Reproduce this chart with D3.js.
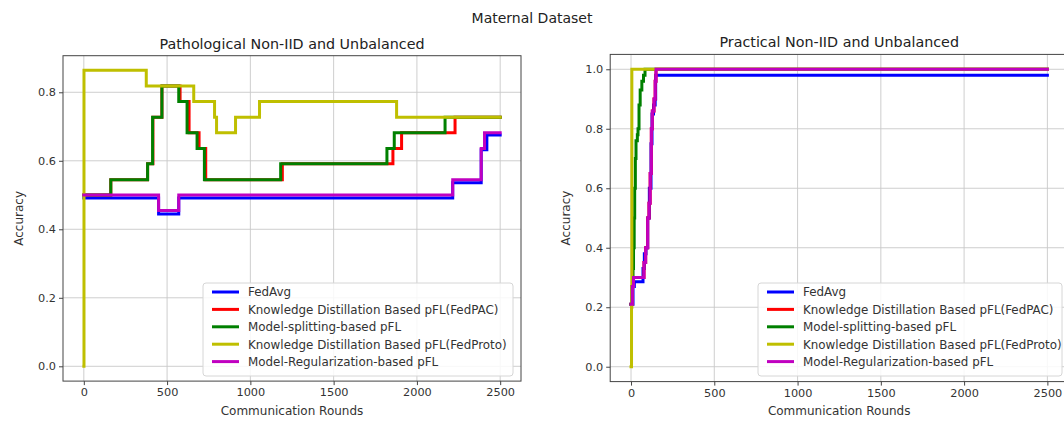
<!DOCTYPE html>
<html>
<head>
<meta charset="utf-8">
<script src="https://cdn.jsdelivr.net/npm/d3@7"></script>
<style>
  html, body { margin: 0; padding: 0; background: #fff; }
  svg { display: block; font-family: "DejaVu Sans", sans-serif; }
</style>
</head>
<body>
<svg id="chart" width="1064" height="421"></svg>
<script>
// ---- data: step breakpoints [round, accuracy] ----
const seriesNames = [
  "FedAvg",
  "Knowledge Distillation Based pFL(FedPAC)",
  "Model-splitting-based pFL",
  "Knowledge Distillation Based pFL(FedProto)",
  "Model-Regularization-based pFL"
];
const seriesColors = ["#0000ff", "#ff0000", "#008000", "#bfbf00", "#c000c0"];

const xTicks = [0, 500, 1000, 1500, 2000, 2500];
const yTicksLeft = [0.0, 0.2, 0.4, 0.6, 0.8];
const yTicksRight = [0.0, 0.2, 0.4, 0.6, 0.8, 1.0];

// Pathological Non-IID and Unbalanced
const pathFedAvg = [[0, 0.491], [449, 0.445], [570, 0.491], [2215, 0.536], [2386, 0.632], [2420, 0.675], [2500, 0.675]];
const pathFedPAC = [[0, 0.5], [162, 0.545], [383, 0.591], [415, 0.727], [469, 0.818], [578, 0.773], [632, 0.682], [692, 0.636], [732, 0.545], [1192, 0.591], [1856, 0.636], [1908, 0.682], [2229, 0.727], [2500, 0.727]];
const pathSplit = [[0, 0.5], [162, 0.545], [383, 0.591], [413, 0.727], [469, 0.818], [570, 0.773], [620, 0.682], [680, 0.636], [724, 0.545], [1182, 0.591], [1820, 0.636], [1864, 0.682], [2169, 0.727], [2500, 0.727]];
const pathFedProto = [[0, 0.0], [1, 0.864], [375, 0.818], [660, 0.773], [785, 0.727], [797, 0.682], [911, 0.727], [1055, 0.773], [1878, 0.727], [2500, 0.727]];
const pathReg = [[0, 0.5], [449, 0.455], [570, 0.5], [2215, 0.545], [2386, 0.636], [2406, 0.682], [2500, 0.682]];

// Practical Non-IID and Unbalanced
const pracFedAvg = [[0, 0.21], [12, 0.27], [20, 0.286], [70, 0.286], [72, 0.33], [80, 0.38], [90, 0.4], [100, 0.5], [110, 0.6], [120, 0.75], [126, 0.85], [135, 0.88], [145, 0.9], [148, 0.98], [2500, 0.98]];
const pracFedPAC = [[0, 0.21], [8, 0.27], [15, 0.3], [72, 0.3], [78, 0.35], [88, 0.4], [100, 0.5], [108, 0.55], [115, 0.65], [122, 0.8], [128, 0.86], [138, 0.9], [145, 0.96], [150, 1.0], [2500, 1.0]];
const pracSplit = [[0, 0.21], [5, 0.27], [12, 0.33], [15, 0.4], [19, 0.5], [22, 0.6], [26, 0.7], [30, 0.76], [38, 0.78], [42, 0.8], [48, 0.88], [55, 0.93], [65, 0.96], [75, 0.98], [84, 1.0], [2500, 1.0]];
const pracFedProto = [[0, 0.0], [3, 0.2], [5, 1.0], [2500, 1.0]];
const pracReg = [[0, 0.21], [8, 0.27], [15, 0.3], [72, 0.3], [78, 0.35], [88, 0.4], [100, 0.5], [108, 0.55], [115, 0.65], [122, 0.8], [128, 0.86], [138, 0.9], [145, 0.96], [150, 1.0], [2500, 1.0]];

const svg = d3.select("#chart");

svg.append("text")
  .attr("x", 532).attr("y", 23)
  .attr("text-anchor", "middle")
  .attr("font-size", 14).attr("fill", "#222")
  .text("Maternal Dataset");

function panel(opts) {
  const x = d3.scaleLinear().domain([-125, 2625]).range([opts.left, opts.right]);
  const y = d3.scaleLinear().domain(opts.yDomain).range([opts.bottom, opts.top]);
  const g = svg.append("g");

  // grid
  g.append("g").selectAll("line").data(xTicks).join("line")
    .attr("x1", d => x(d)).attr("x2", d => x(d))
    .attr("y1", opts.top).attr("y2", opts.bottom)
    .attr("stroke", "#c8c8c8").attr("stroke-width", 0.9);
  g.append("g").selectAll("line").data(opts.yTicks).join("line")
    .attr("x1", opts.left).attr("x2", opts.right)
    .attr("y1", d => y(d)).attr("y2", d => y(d))
    .attr("stroke", "#c8c8c8").attr("stroke-width", 0.9);

  // axes
  const xAxis = d3.axisBottom(x).tickValues(xTicks).tickFormat(d3.format("d")).tickSize(4).tickPadding(3);
  const yAxis = d3.axisLeft(y).tickValues(opts.yTicks).tickFormat(d3.format(".1f")).tickSize(4).tickPadding(3);
  const gx = g.append("g").attr("transform", `translate(0,${opts.bottom})`).call(xAxis);
  const gy = g.append("g").attr("transform", `translate(${opts.left},0)`).call(yAxis);
  [gx, gy].forEach(a => {
    a.select(".domain").remove();
    a.selectAll(".tick line").attr("stroke", "#444");
    a.selectAll(".tick text").attr("font-size", 11.3).attr("fill", "#333").attr("font-family", "DejaVu Sans");
  });

  // lines
  const line = d3.line().x(d => x(d[0])).y(d => y(d[1])).curve(d3.curveStepAfter);
  opts.data.forEach((s, i) => {
    g.append("path").datum(s)
      .attr("d", line)
      .attr("fill", "none")
      .attr("stroke", seriesColors[i])
      .attr("stroke-width", 3)
      .attr("stroke-linejoin", "miter")
      .attr("stroke-linecap", "square");
  });

  // frame
  g.append("rect")
    .attr("x", opts.left).attr("y", opts.top)
    .attr("width", opts.right - opts.left).attr("height", opts.bottom - opts.top)
    .attr("fill", "none").attr("stroke", "#444").attr("stroke-width", 1);

  // titles
  g.append("text")
    .attr("x", (opts.left + opts.right) / 2).attr("y", opts.top - 7)
    .attr("text-anchor", "middle").attr("font-size", 14.3).attr("fill", "#222")
    .text(opts.title);
  g.append("text")
    .attr("x", (opts.left + opts.right) / 2).attr("y", 415)
    .attr("text-anchor", "middle").attr("font-size", 12).attr("fill", "#333")
    .text("Communication Rounds");
  g.append("text")
    .attr("transform", `translate(${opts.left - 40},${(opts.top + opts.bottom) / 2}) rotate(-90)`)
    .attr("text-anchor", "middle").attr("font-size", 12).attr("fill", "#333")
    .text("Accuracy");

  // legend
  const lg = g.append("g");
  lg.append("rect")
    .attr("x", opts.legX).attr("y", 283)
    .attr("width", opts.legW).attr("height", 93)
    .attr("rx", 3)
    .attr("fill", "#fff").attr("fill-opacity", 0.85)
    .attr("stroke", "#d6d6d6").attr("stroke-width", 1);
  seriesNames.forEach((name, i) => {
    const yy = 292 + i * 17.4;
    lg.append("line")
      .attr("x1", opts.legX + 9).attr("x2", opts.legX + 36)
      .attr("y1", yy).attr("y2", yy)
      .attr("stroke", seriesColors[i]).attr("stroke-width", 3);
    lg.append("text")
      .attr("x", opts.legX + 45).attr("y", yy + 4.3)
      .attr("font-size", 11.9).attr("fill", "#333")
      .text(name);
  });
}

panel({
  left: 63, right: 521, top: 55.7, bottom: 381.1,
  yDomain: [-0.0432, 0.9068], yTicks: yTicksLeft,
  title: "Pathological Non-IID and Unbalanced",
  data: [pathFedAvg, pathFedPAC, pathSplit, pathFedProto, pathReg],
  legX: 203, legW: 310
});

panel({
  left: 610.2, right: 1068.2, top: 54.4, bottom: 381.6,
  yDomain: [-0.05, 1.05], yTicks: yTicksRight,
  title: "Practical Non-IID and Unbalanced",
  data: [pracFedAvg, pracFedPAC, pracSplit, pracFedProto, pracReg],
  legX: 758, legW: 304
});
</script>
</body>
</html>
